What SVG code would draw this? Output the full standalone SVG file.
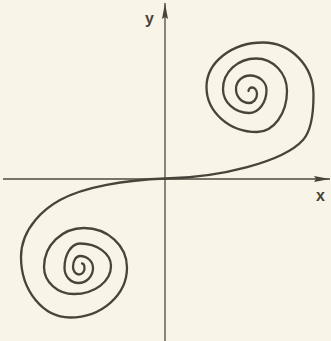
<svg xmlns="http://www.w3.org/2000/svg" width="331" height="341" viewBox="0 0 331 341">
<style>
.bg{fill:#f8f5e8}
.axis{stroke:#4e4840;stroke-width:1.3;fill:none}
.curve{stroke:#4a433b;stroke-width:2.3;fill:none;stroke-linecap:round;stroke-linejoin:round}
.lbl{font-family:"Liberation Sans",Arial,sans-serif;font-weight:bold;font-size:16px;fill:#4a433b}
</style>
<defs>
<marker id="arrow" viewBox="0 0 16 6" refX="16" refY="3" markerWidth="16" markerHeight="6" markerUnits="userSpaceOnUse" orient="auto">
<path d="M0,0 L16,3 L0,6 L2,3 z" fill="#4a433b"/>
</marker>
</defs>
<rect class="bg" x="0" y="0" width="331" height="341"/>
<g id="axes">
<line id="x-axis" class="axis" x1="3" y1="179" x2="330" y2="179" marker-end="url(#arrow)"/>
<line id="y-axis" class="axis" x1="165" y1="341" x2="165" y2="3" marker-end="url(#arrow)"/>
<text id="label-y" class="lbl" x="145" y="24">y</text>
<text id="label-x" class="lbl" x="316" y="201">x</text>
</g>
<g id="spiral">
<path id="upper-branch" class="curve" d="M165.5,178.5 C220,177.5 283,162 303,140 C311,131.2 313.5,113 313.5,95 C313.5,66 290.9,42.5 263,42.5 C231.8,42.5 206.5,62.4 206.5,87 C206.5,111.8 229.1,132 257,132 C273.6,132 287,113.6 287,91 C287,73.1 273.1,58.5 256,58.5 C237.8,58.5 223,72.2 223,89 C223,102.2 234.6,113 249,113 C258.7,113 266.5,102.7 266.5,90 C266.5,82 259.1,75.5 250,75.5 C242.3,75.5 236,81.5 236,89 C236,96.7 241.8,103 249,103 C253.4,103 257,99 257,94 C257,90.4 254.8,87.5 252,87.5 C250.1,87.5 248.5,89.1 248.5,91"/>
<path id="lower-branch" class="curve" d="M165.5,178.5 C125,180 84,186.8 60,200 C46,207.7 21,227 21,257 C21,290.4 43,317.5 70,317.5 C101.5,317.5 127,295.1 127,267.5 C127,245.7 107.7,228 84,228 C61.9,228 44,245.5 44,267 C44,281.9 57.4,294 74,294 C94.4,294 111,281.5 111,266 C111,253.6 97.1,243.5 80,243.5 C71.4,243.5 64.5,254.5 64.5,268 C64.5,276.3 70.8,283 78.5,283 C86.5,283 93,276.3 93,268 C93,261.4 87.2,256 80,256 C76.1,256 73,260.9 73,267 C73,271.1 75.7,274.5 79,274.5 C82,274.5 84.5,271.8 84.5,268.5 C84.5,265.7 83.4,263.5 82,263.5"/>
</g>
</svg>
